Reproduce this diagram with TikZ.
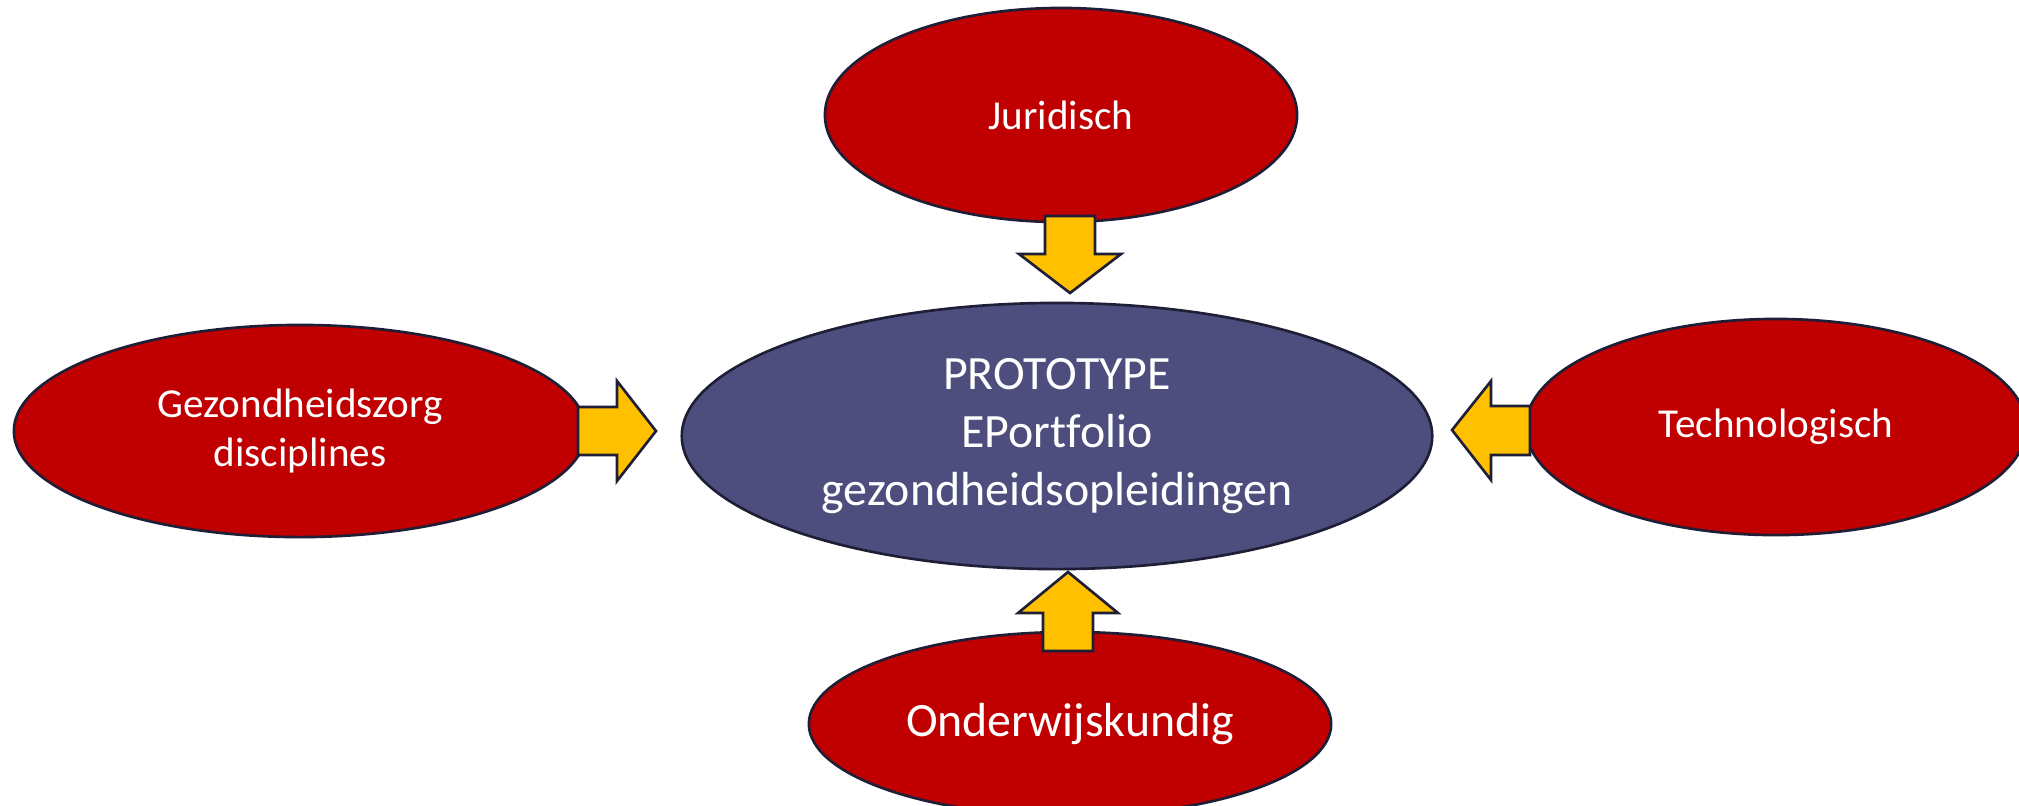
\documentclass[tikz,border=0pt]{standalone}
\usepackage{fontspec}
\setmainfont{Carlito}[Ligatures={NoCommon}]
\usetikzlibrary{shapes.geometric}

\definecolor{aspectred}{HTML}{C00000}
\definecolor{protoblue}{HTML}{4D4E7D}
\definecolor{arrowyellow}{HTML}{FFC000}
\definecolor{rim}{HTML}{1E1E36}

\tikzset{
  aspect/.style={ellipse, draw=rim, line width=0.75pt, fill=aspectred, text=white,
    inner sep=0pt, align=center, font=\fontsize{11.7}{14.2}\selectfont},
  proto/.style={ellipse, draw=rim, line width=0.75pt, fill=protoblue, text=white,
    inner sep=0pt, align=center, font=\fontsize{13.6}{16.4}\selectfont},
  blockarrow/.style={draw=rim, line width=0.75pt, fill=arrowyellow, line join=miter}
}

\begin{document}
\begin{tikzpicture}[x=0.01cm, y=-0.01cm]
        \useasboundingbox (0,0) rectangle (2019,805);

        % Ellipsen
        \node[aspect, minimum width=4.72cm, minimum height=2.14cm] (jur) at (1061,115) {Juridisch};
        \node[aspect, minimum width=5.72cm, minimum height=2.12cm] (gez) at (300,431) {Gezondheidszorg\\disciplines};
        \node[aspect, minimum width=5.0cm, minimum height=2.16cm] (tech) at (1776,427) {Technologisch};
        \node[aspect, minimum width=5.22cm, minimum height=1.84cm, font=\fontsize{13.6}{16}\selectfont] (ond) at (1070,724) {Onderwijskundig};
        \node[proto, minimum width=7.5cm, minimum height=2.66cm] (proto) at (1057,436) {PROTOTYPE\\EPortfolio\\gezondheidsopleidingen};

        % Punten van de pijlen
        \coordinate (tipjur) at (1070,293);
        \coordinate (tipond) at (1068,572);
        \coordinate (tipgez) at (656,431);
        \coordinate (tiptech) at (1452,430);

        % Pijl Juridisch
        \draw[blockarrow] (tipjur) -- ++(-51,-39) -- ++(26,0) -- ++(0,-38) -- ++(50,0) -- ++(0,38) -- ++(26,0) -- cycle;

        % Pijl Onderwijskundig
        \draw[blockarrow] (tipond) -- ++(-50,41) -- ++(25,0) -- ++(0,38) -- ++(50,0) -- ++(0,-38) -- ++(25,0) -- cycle;

        % Pijl Gezondheidszorg
        \draw[blockarrow] (tipgez) -- ++(-39,-50) -- ++(0,26) -- ++(-39,0) -- ++(0,48) -- ++(39,0) -- ++(0,26) -- cycle;

        % Pijl Technologisch
        \draw[blockarrow] (tiptech) -- ++(39,-49) -- ++(0,25) -- ++(39,0) -- ++(0,49) -- ++(-39,0) -- ++(0,25) -- cycle;
      \end{tikzpicture}
\end{document}
